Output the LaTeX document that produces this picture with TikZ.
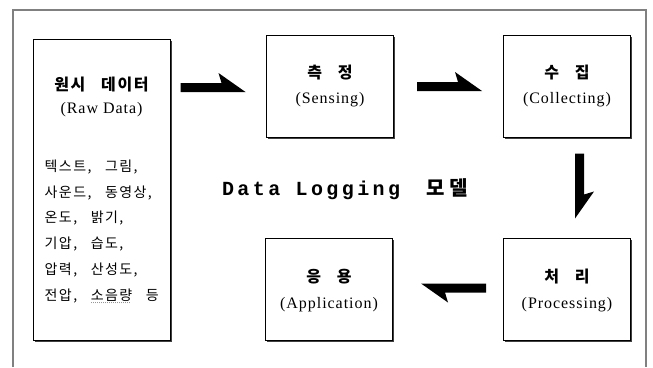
\documentclass[tikz,border=0pt]{standalone}
\usepackage{fontspec}
\setmainfont{Liberation Serif}
\newfontfamily\kofont{Noto Sans CJK KR}[LetterSpace=10,WordSpace=2.2]
\newfontfamily\koheadfont{Noto Sans CJK KR}[LetterSpace=10,WordSpace=3]
\newfontfamily\kobigfont{Noto Sans CJK KR}[LetterSpace=25]
\newfontfamily\latfont{Liberation Serif}[LetterSpace=6]
\newfontfamily\logfont{Liberation Mono}[LetterSpace=17]
\usetikzlibrary{positioning}
\usetikzlibrary{calc}
\usetikzlibrary{shadows}

% orange spell-check dots under a word
\newcommand\spellmark[1]{\setbox0\hbox{#1}\rlap{\color{orange}\raisebox{-3pt}{\hbox to\wd0{\leaders\hbox to 2pt{\hss\rule{1pt}{1pt}\hss}\hfill}}}#1}

\tikzset{pics/bigarrow/.style={code={
  \fill (0pt,0pt) -- (0pt,9pt) -- (41pt,9pt) -- (38pt,19pt) -- (65pt,0pt) -- cycle;}}}

\begin{document}
\begin{tikzpicture}[x=1pt,y=-1pt,
  main node/.style={rectangle,draw,fill=white,line width=1pt,minimum width=127pt,minimum height=102pt,
    drop shadow={shadow xshift=1.5pt,shadow yshift=-1.5pt,fill=black!75,opacity=1}},
  head/.style={font=\koheadfont\fontsize{16}{19}\selectfont\bfseries},
  sub/.style={font=\latfont\fontsize{16}{19}\selectfont}]

  \useasboundingbox (0,0) rectangle (653,367);
  \draw[gray,line width=1.2pt] (13,367) -- (13,10) -- (646,10) -- (646,367);

  \node[main node,minimum width=137pt,minimum height=301pt] (1) at (101.5,189.5) {};
  \node[main node] (2) at (330,86) {};
  \node[main node] (3) [right=109pt of 2] {};
  \node[main node] (4) [below=100pt of 3] {};
  \node[main node] (5) [left=110pt of 4] {};

  \node[head] (1a) at ($(1.north)+(0,46)$) {원시 데이터};
  \node[sub] (1b) at ($(1.north)+(0,71)$) {(Raw Data)};
  \node[anchor=north west,inner sep=0pt,align=left,font=\kofont\fontsize{14}{25.8}\selectfont]
    (1c) at ($(1.north west)+(12,121)$)
    {텍스트, 그림,\\ 사운드, 동영상,\\ 온도, 밝기,\\ 기압, 습도,\\ 압력, 산성도,\\ 전압, \spellmark{소음량} 등};

  \node[head] (2a) at ($(2)+(0,-13)$) {측 정};
  \node[sub] (2b) at ($(2)+(0,14)$) {(Sensing)};
  \node[head] (3a) at ($(3)+(0,-13)$) {수 집};
  \node[sub] (3b) at ($(3)+(0,14)$) {(Collecting)};
  \node[head] (4a) at ($(4)+(0,-12)$) {처 리};
  \node[sub] (4b) at ($(4)+(0,16)$) {(Processing)};
  \node[head] (5a) at ($(5)+(0,-12)$) {응 용};
  \node[sub] (5b) at ($(5)+(0,16)$) {(Application)};

  \node (6) at (345,189) {\logfont\bfseries\fontsize{20}{24}\selectfont Data Logging\hspace{26pt}{\kobigfont\bfseries\fontsize{20}{24}\selectfont 모델}};

  \pic at ($(1.east |- 2.center)+(10,6)$) {bigarrow};
  \pic at ($(2.east)+(23,5)$) {bigarrow};
  \pic[rotate=-90] at ($(3.south)+(8,16)$) {bigarrow};
  \pic[rotate=180] at ($(4.west)+(-17,-5.5)$) {bigarrow};
\end{tikzpicture}
\end{document}
